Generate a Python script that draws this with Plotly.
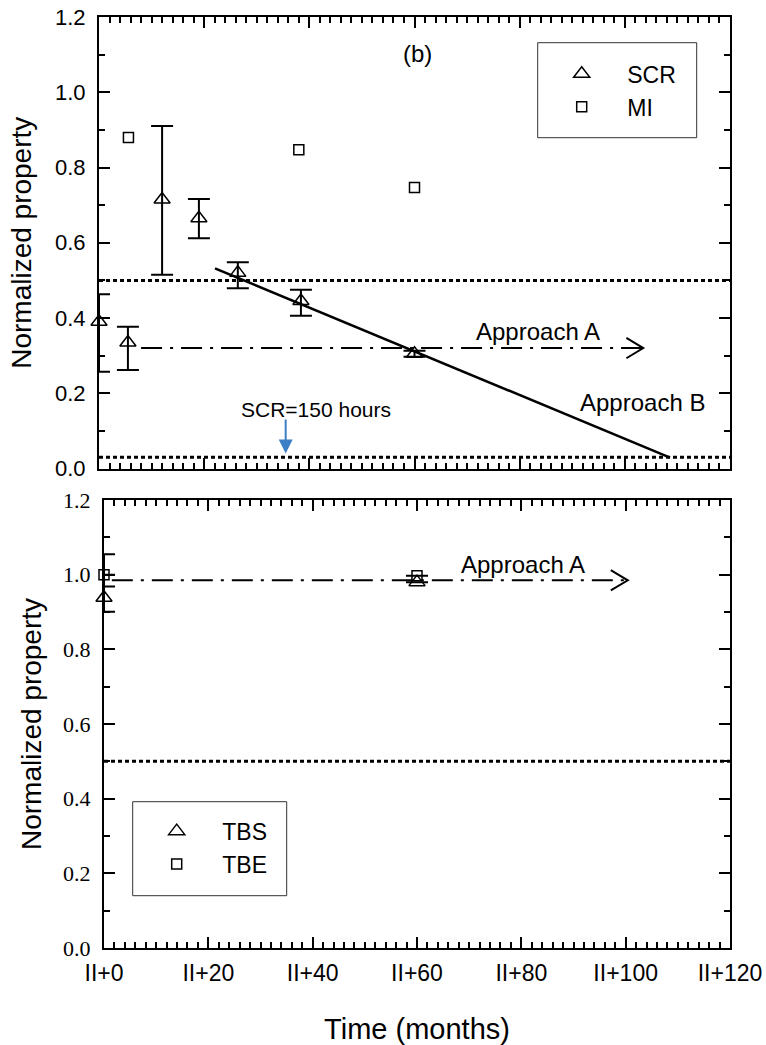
import plotly.graph_objects as go

# ---------------- data ----------------
# Top panel (b): SCR (triangles, with error bars) and MI (squares)
scr_x = [0, 5.5, 12, 19, 26.4, 38.4, 60]
scr_y = [0.39, 0.335, 0.715, 0.665, 0.52, 0.445, 0.305]
scr_err_plus = [0.073, 0.042, 0.195, 0.051, 0.028, 0.03, 0.008]
scr_err_minus = [0.133, 0.073, 0.2, 0.053, 0.041, 0.039, 0.008]

mi_x = [5.6, 38, 60]
mi_y = [0.88, 0.847, 0.747]

# Bottom panel: TBS (triangles) and TBE (squares)
tbs_x = [0, 60]
tbs_y = [0.938, 0.98]
tbs_err_plus = [0.062, 0.0]
tbs_err_minus = [0.037, 0.0]

tbe_x = [0, 60]
tbe_y = [1.0, 0.997]
tbe_err_plus = [0.055, 0.0]
tbe_err_minus = [0.032, 0.0]

# reference / guide lines
threshold_top = [0.5, 0.03]        # dotted lines, top panel
threshold_bottom = [0.5]           # dotted line, bottom panel
approachA_top = dict(x0=8.0, x1=103.5, y=0.32)
approachA_bot = dict(x0=1.5, x1=100.4, y=0.985)
approachB = dict(x0=22.05, y0=0.532, x1=108.6, y1=0.029)
scr150_x = 35.5

x_tickvals = [0, 20, 40, 60, 80, 100, 120]
x_ticktext = ["II+0", "II+20", "II+40", "II+60", "II+80", "II+100", "II+120"]

SANS = "Liberation Sans, Arial, sans-serif"
SERIF = "Liberation Serif, Times New Roman, serif"

W, H = 766, 1045
ML, MR, MT, MB = 99, 36, 17, 97
PW, PH = W - ML - MR, H - MT - MB


def px_x(p):
    return (p - ML) / PW


def px_y(p):
    return (H - MB - p) / PH


fig = go.Figure()

tri = dict(symbol="triangle-up-open", size=14, color="black", line=dict(width=1.5, color="black"))
sq = dict(symbol="square-open", size=10, color="black", line=dict(width=1.5, color="black"))

NB = "\u00a0" * 4


def ebar(p, m):
    return dict(type="data", symmetric=False, array=p, arrayminus=m,
                thickness=2, width=11, color="black")


fig.add_trace(go.Scatter(x=scr_x, y=scr_y, mode="markers", name=NB + "SCR",
                         marker=tri, error_y=ebar(scr_err_plus, scr_err_minus), cliponaxis=False,
                         xaxis="x", yaxis="y", legend="legend"))
fig.add_trace(go.Scatter(x=mi_x, y=mi_y, mode="markers", name=NB + "MI", cliponaxis=False,
                         marker=sq, xaxis="x", yaxis="y", legend="legend"))
fig.add_trace(go.Scatter(x=tbs_x, y=tbs_y, mode="markers", name=NB + "TBS", cliponaxis=False,
                         marker=tri, error_y=ebar(tbs_err_plus, tbs_err_minus),
                         xaxis="x2", yaxis="y2", legend="legend2"))
fig.add_trace(go.Scatter(x=tbe_x, y=tbe_y, mode="markers", name=NB + "TBE", cliponaxis=False,
                         marker=sq, error_y=ebar(tbe_err_plus, tbe_err_minus),
                         xaxis="x2", yaxis="y2", legend="legend2"))

shapes = []
dot = dict(color="black", width=3, dash="4px,3px")
dashdot = dict(color="black", width=2, dash="21px,8px,3px,8px")
for yv in threshold_top:
    shapes.append(dict(type="line", xref="x", yref="y", x0=0, x1=120, y0=yv, y1=yv, line=dot))
for yv in threshold_bottom:
    shapes.append(dict(type="line", xref="x2", yref="y2", x0=0, x1=120, y0=yv, y1=yv, line=dot))


def approach_a(a, xr, yr, dx, dy):
    shapes.append(dict(type="line", xref=xr, yref=yr, x0=a["x0"], x1=a["x1"],
                       y0=a["y"], y1=a["y"], line=dashdot))
    shapes.append(dict(type="path", xref=xr, yref=yr,
                       path=f"M {a['x1']-dx},{a['y']+dy} L {a['x1']},{a['y']} L {a['x1']-dx},{a['y']-dy}",
                       line=dict(color="black", width=2)))


approach_a(approachA_top, "x", "y", 3.2, 0.027)
approach_a(approachA_bot, "x2", "y2", 3.25, 0.027)
shapes.append(dict(type="line", xref="x", yref="y", x0=approachB["x0"], y0=approachB["y0"],
                   x1=approachB["x1"], y1=approachB["y1"], line=dict(color="black", width=2.5)))

# legend boxes
box = dict(color="#333", width=1)
shapes.append(dict(type="rect", xref="paper", yref="paper", x0=px_x(537.7), x1=px_x(696.7),
                   y0=px_y(137.7), y1=px_y(42.7), line=box))
shapes.append(dict(type="rect", xref="paper", yref="paper", x0=px_x(132.7), x1=px_x(286.7),
                   y0=px_y(895.7), y1=px_y(801.7), line=box))

annotations = [
    dict(text="(b)", x=60.5, y=1.104, xref="x", yref="y", showarrow=False,
         font=dict(family=SANS, size=24, color="black")),
    dict(text="Approach A", x=83.4, y=0.364, xref="x", yref="y", showarrow=False,
         font=dict(family=SANS, size=24, color="black")),
    dict(text="Approach B", x=103.4, y=0.175, xref="x", yref="y", showarrow=False,
         font=dict(family=SANS, size=24, color="black")),
    dict(text="Approach A", x=80.4, y=1.026, xref="x2", yref="y2", showarrow=False,
         font=dict(family=SANS, size=24, color="black")),
    dict(text="SCR=150 hours", x=41.2, y=0.156, xref="x", yref="y", showarrow=False,
         font=dict(family=SANS, size=21, color="black")),
    dict(text="", x=scr150_x, y=0.04, ax=scr150_x, ay=0.134, xref="x", yref="y",
         axref="x", ayref="y", showarrow=True, arrowhead=2, arrowsize=1.4,
         arrowwidth=2, arrowcolor="#3d7fc4"),
]


def xax(domain, anchor, show_labels):
    return dict(domain=domain, anchor=anchor, range=[0, 120], showline=True, linewidth=2,
                linecolor="black", mirror="ticks", ticks="inside", ticklen=11, tickwidth=2,
                tickcolor="black", tickvals=x_tickvals, ticktext=x_ticktext,
                showticklabels=show_labels, showgrid=False, zeroline=False, automargin=False,
                minor=dict(ticks="inside", ticklen=6, tickwidth=2, dtick=2, tickcolor="black"),
                tickfont=dict(family=SANS, size=23, color="black"), ticklabelstandoff=3)


def yax(domain, anchor, fontfam, standoff):
    return dict(domain=domain, anchor=anchor, range=[0, 1.2], showline=True, linewidth=2,
                linecolor="black", mirror="ticks", ticks="inside", ticklen=11, tickwidth=2,
                tickcolor="black", dtick=0.2, tick0=0, tickformat=".1f", showgrid=False,
                zeroline=False, automargin=False,
                minor=dict(ticks="inside", ticklen=6, tickwidth=2, dtick=0.1, tickcolor="black"),
                tickfont=dict(family=fontfam, size=22, color="black"), ticklabelstandoff=7,
                title=dict(text="Normalized property", font=dict(family=SANS, size=28, color="black"),
                           standoff=standoff))


xa2 = xax([5 / PW, 1], "y2", True)
xa2["title"] = dict(text="Time (months)", font=dict(family=SANS, size=29, color="black"), standoff=35)

fig.update_layout(
    width=W, height=H,
    margin=dict(l=ML, r=MR, t=MT, b=MB),
    paper_bgcolor="white", plot_bgcolor="white",
    xaxis=xax([0, 1], "y", False),
    yaxis=yax([479.5 / PH, 1], "x", SANS, 15),
    xaxis2=xa2,
    yaxis2=yax([0, 448 / PH], "x2", SERIF, 13),
    shapes=shapes, annotations=annotations,
    legend=dict(x=px_x(537.7), y=px_y(52.3), xanchor="left", yanchor="top",
                borderwidth=0, bgcolor="rgba(0,0,0,0)", indentation=24,
                font=dict(family=SANS, size=23, color="black")),
    legend2=dict(x=px_x(132.7), y=px_y(809.7), xanchor="left", yanchor="top",
                 borderwidth=0, bgcolor="rgba(0,0,0,0)", indentation=24,
                 font=dict(family=SANS, size=23, color="black")),
    showlegend=True,
)

fig.write_html("out.html", config={"displayModeBar": False},
               post_script="document.body.style.margin='0';")
